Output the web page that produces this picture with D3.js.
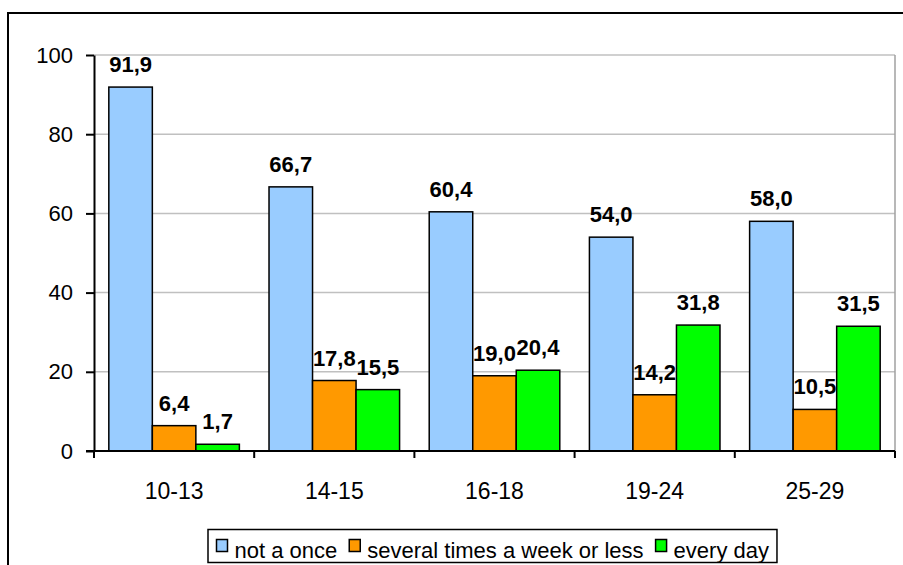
<!DOCTYPE html>
<html>
<head>
<meta charset="utf-8">
<script src="https://cdn.jsdelivr.net/npm/d3@7"></script>
<style>
  body { margin: 0; background: #fff; }
  svg { display: block; font-family: "Liberation Sans", Arial, sans-serif; }
</style>
</head>
<body>
<svg></svg>
<script>
// data
var ageGroups = ["10-13", "14-15", "16-18", "19-24", "25-29"];
var seriesNames = ["not a once", "several times a week or less", "every day"];
var notOnce = [91.9, 66.7, 60.4, 54.0, 58.0];
var severalTimes = [6.4, 17.8, 19.0, 14.2, 10.5];
var everyDay = [1.7, 15.5, 20.4, 31.8, 31.5];
var yTicks = [0, 20, 40, 60, 80, 100];

var seriesValues = [notOnce, severalTimes, everyDay];
var colors = ["#99ccff", "#ff9900", "#00ff00"];

var svgW = 903, svgH = 565;
var svg = d3.select("svg").attr("width", svgW).attr("height", svgH);

// outer chart frame (runs off the right and bottom edges)
svg.append("rect")
  .attr("x", 8).attr("y", 13)
  .attr("width", 920).attr("height", 600)
  .attr("fill", "#fff")
  .attr("stroke", "#000")
  .attr("stroke-width", 2);

var plotLeft = 94, plotRight = 895, plotTop = 55, plotBottom = 451;

var x0 = d3.scaleBand()
  .domain(ageGroups)
  .range([plotLeft, plotRight])
  .paddingInner(0.185)
  .paddingOuter(0.0925);

var x1 = d3.scaleBand()
  .domain(d3.range(seriesNames.length))
  .range([0, x0.bandwidth()]);

var y = d3.scaleLinear().domain([0, 100]).range([plotBottom, plotTop]);

// gridlines
svg.append("g")
  .selectAll("line")
  .data(yTicks.filter(function(d) { return d > 0; }))
  .enter().append("line")
  .attr("x1", plotLeft).attr("x2", plotRight)
  .attr("y1", function(d) { return y(d); })
  .attr("y2", function(d) { return y(d); })
  .attr("stroke", "#c0c0c0")
  .attr("stroke-width", 1.5);

// right side of the plot area
svg.append("line")
  .attr("x1", plotRight).attr("x2", plotRight)
  .attr("y1", plotTop).attr("y2", plotBottom)
  .attr("stroke", "#a0a0a0")
  .attr("stroke-width", 1.5);

// bars
var rows = [];
ageGroups.forEach(function(g, i) {
  seriesValues.forEach(function(vals, s) {
    rows.push({ group: g, s: s, v: vals[i] });
  });
});

svg.append("g")
  .selectAll("rect")
  .data(rows)
  .enter().append("rect")
  .attr("x", function(d) { return x0(d.group) + x1(d.s); })
  .attr("y", function(d) { return y(d.v); })
  .attr("width", x1.bandwidth())
  .attr("height", function(d) { return y(0) - y(d.v); })
  .attr("fill", function(d) { return colors[d.s]; })
  .attr("stroke", "#000")
  .attr("stroke-width", 1.5);

// value labels
svg.append("g")
  .selectAll("text")
  .data(rows)
  .enter().append("text")
  .attr("x", function(d) { return x0(d.group) + x1(d.s) + x1.bandwidth() / 2; })
  .attr("y", function(d) { return y(d.v) - 15; })
  .attr("text-anchor", "middle")
  .attr("font-size", 22)
  .attr("font-weight", "bold")
  .text(function(d) { return d.v.toFixed(1).replace(".", ","); });

// y axis
var yAxis = svg.append("g")
  .attr("transform", "translate(" + plotLeft + ",0)")
  .call(d3.axisLeft(y).tickValues(yTicks).tickSize(8).tickPadding(13).tickSizeOuter(0));
yAxis.select(".domain").attr("stroke-width", 2);
yAxis.selectAll(".tick line").attr("stroke-width", 2);
yAxis.selectAll("text").attr("font-size", 22).attr("font-family", "Liberation Sans, Arial, sans-serif").attr("fill", "#000");

// x axis: ticks sit on the category boundaries
var xAxis = svg.append("g")
  .attr("transform", "translate(0," + plotBottom + ")");
xAxis.append("line")
  .attr("x1", plotLeft - 8).attr("x2", plotRight)
  .attr("stroke", "#000").attr("stroke-width", 2);
var step = (plotRight - plotLeft) / ageGroups.length;
xAxis.selectAll(".sep")
  .data(d3.range(ageGroups.length + 1))
  .enter().append("line")
  .attr("class", "sep")
  .attr("x1", function(i) { return plotLeft + i * step; })
  .attr("x2", function(i) { return plotLeft + i * step; })
  .attr("y1", 0).attr("y2", 7)
  .attr("stroke", "#000").attr("stroke-width", 2);
xAxis.selectAll("text")
  .data(ageGroups)
  .enter().append("text")
  .attr("x", function(d) { return x0(d) + x0.bandwidth() / 2; })
  .attr("y", 48)
  .attr("text-anchor", "middle")
  .attr("font-size", 23)
  .text(function(d) { return d; });

// legend
var legend = svg.append("g");
var legendBox = legend.append("rect")
  .attr("x", 208).attr("y", 529.5)
  .attr("height", 33)
  .attr("fill", "#fff")
  .attr("stroke", "#000")
  .attr("stroke-width", 1.5);

var lx = 216.5;
seriesNames.forEach(function(name, i) {
  legend.append("rect")
    .attr("x", lx).attr("y", 539.5)
    .attr("width", 11).attr("height", 12)
    .attr("fill", colors[i])
    .attr("stroke", "#000")
    .attr("stroke-width", 1.5);
  var t = legend.append("text")
    .attr("x", lx + 18).attr("y", 558)
    .attr("font-size", 22)
    .text(name);
  lx = lx + 18 + t.node().getComputedTextLength() + 12;
});
legendBox.attr("width", lx - 208 - 4);
</script>
</body>
</html>
